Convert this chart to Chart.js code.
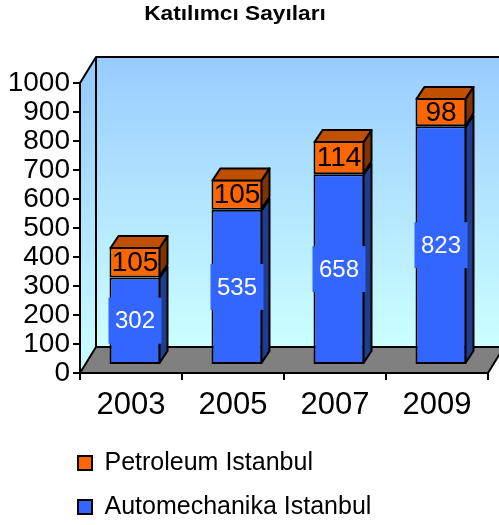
<!DOCTYPE html>
<html><head><meta charset="utf-8">
<script src="https://cdn.jsdelivr.net/npm/chart.js@4/dist/chart.umd.min.js"></script>
<style>html,body{margin:0;padding:0;background:#fff}#wrap{width:499px;height:525px}</style>
</head><body><div id="wrap"><canvas id="c" width="499" height="525"></canvas></div>
<script>
const titleText = 'Katılımcı Sayıları';
const categories = ['2003', '2005', '2007', '2009'];
const automechanika = [302, 535, 658, 823];
const petroleum = [105, 105, 114, 98];
const seriesNames = ['Automechanika Istanbul', 'Petroleum Istanbul'];
const yTickLabels = ['0', '100', '200', '300', '400', '500', '600', '700', '800', '900', '1000'];
const yMin = 0, yMax = 1000, yStep = 100;

const FONT = '"Liberation Sans", Arial, sans-serif';
const WALL = {dx: 16, dy: -26};
const BAR_SHIFT = {dx: 4, dy: -8};
const BAR_DEPTH = {dx: 8, dy: -12};

const threeD = {
  id: 'threeD',
  afterLayout(chart) {
    if (chart.legend) { chart.legend.left = 59; chart.legend.top = 431.5; }
  },
  beforeDatasetsDraw(chart) {
    const {ctx, chartArea: a, scales: {y}} = chart;
    const y0 = y.getPixelForValue(yMin), y1 = y.getPixelForValue(yMax);
    const L = a.left, R = a.right, dx = WALL.dx, dy = WALL.dy;
    ctx.save();
    const g = ctx.createLinearGradient(0, y1 + dy, 0, y0 + dy);
    g.addColorStop(0, '#99CCFF'); g.addColorStop(1, '#CCFFFF');
    ctx.fillStyle = g;
    ctx.fillRect(L + dx, y1 + dy, chart.width, y0 - y1);
    const g2 = ctx.createLinearGradient(0, y1, 0, y0);
    g2.addColorStop(0, '#99CCFF'); g2.addColorStop(1, '#CCFFFF');
    ctx.fillStyle = g2;
    ctx.beginPath(); ctx.moveTo(L, y1); ctx.lineTo(L + dx, y1 + dy); ctx.lineTo(L + dx, y0 + dy); ctx.lineTo(L, y0); ctx.closePath(); ctx.fill();
    ctx.fillStyle = '#808080';
    ctx.beginPath(); ctx.moveTo(L, y0); ctx.lineTo(L + dx, y0 + dy); ctx.lineTo(R + dx, y0 + dy); ctx.lineTo(R, y0); ctx.closePath(); ctx.fill();
    ctx.strokeStyle = '#000'; ctx.lineWidth = 2; ctx.lineJoin = 'round';
    ctx.beginPath();
    ctx.moveTo(L, y1); ctx.lineTo(L + dx, y1 + dy); ctx.lineTo(chart.width + 10, y1 + dy);
    ctx.moveTo(L + dx, y1 + dy); ctx.lineTo(L + dx, y0 + dy); ctx.lineTo(R + dx, y0 + dy);
    ctx.moveTo(L, y0); ctx.lineTo(L + dx, y0 + dy);
    ctx.moveTo(R, y0); ctx.lineTo(R + dx, y0 + dy);
    ctx.moveTo(L, y1); ctx.lineTo(L, y0); ctx.lineTo(R, y0);
    ctx.stroke();
    ctx.restore();
    ctx.save();
    ctx.translate(BAR_SHIFT.dx, BAR_SHIFT.dy);
  },
  afterDatasetsDraw(chart) {
    const ctx = chart.ctx;
    const n = chart.data.datasets.length;
    ctx.lineWidth = 2; ctx.lineJoin = 'round'; ctx.strokeStyle = '#000';
    chart.data.datasets.forEach((ds, i) => {
      const meta = chart.getDatasetMeta(i);
      meta.data.forEach(el => {
        const p = el.getProps(['x', 'y', 'base', 'width'], true);
        const xl = p.x - p.width / 2 + 1, xr = p.x + p.width / 2 - 1;
        const yt = p.y + 1, yb = p.base - 1;
        const ddx = BAR_DEPTH.dx, ddy = BAR_DEPTH.dy;
        ctx.fillStyle = ds.sideColor;
        ctx.beginPath(); ctx.moveTo(xr, yt); ctx.lineTo(xr + ddx, yt + ddy); ctx.lineTo(xr + ddx, yb + ddy); ctx.lineTo(xr, yb); ctx.closePath();
        ctx.fill(); ctx.stroke();
        if (i === n - 1) {
          ctx.fillStyle = ds.topColor;
          ctx.beginPath(); ctx.moveTo(xl, yt); ctx.lineTo(xl + ddx, yt + ddy); ctx.lineTo(xr + ddx, yt + ddy); ctx.lineTo(xr, yt); ctx.closePath();
          ctx.fill(); ctx.stroke();
        }
      });
    });
    chart.data.datasets.forEach((ds, i) => {
      const meta = chart.getDatasetMeta(i);
      meta.data.forEach((el, j) => {
        const p = el.getProps(['x', 'y', 'base', 'width'], true);
        const cy = (p.y + p.base) / 2;
        if (ds.labelBox) {
          ctx.fillStyle = ds.backgroundColor;
          ctx.fillRect(p.x - p.width / 2 - 1, cy - 23, p.width + 2, 46);
        }
        ctx.fillStyle = ds.labelColor;
        ctx.font = ds.labelSize + 'px ' + FONT;
        ctx.textAlign = 'center'; ctx.textBaseline = 'middle';
        ctx.fillText(String(ds.data[j]), p.x, cy + 1);
      });
    });
    ctx.restore();
  },
  afterDraw(chart) {
    const ctx = chart.ctx;
    ctx.save();
    ctx.font = 'bold 21px ' + FONT;
    ctx.fillStyle = '#000';
    ctx.textAlign = 'center'; ctx.textBaseline = 'alphabetic';
    ctx.translate(235, 19.5);
    ctx.scale(1.08, 1);
    ctx.fillText(titleText, 0, 0);
    ctx.restore();
  }
};

new Chart(document.getElementById('c'), {
  type: 'bar',
  data: {
    labels: categories,
    datasets: [
      {label: seriesNames[0], data: automechanika, backgroundColor: '#3366FF', borderColor: '#000', borderWidth: 2, borderSkipped: false,
       sideColor: '#203C8C', topColor: '#2A50CC', labelColor: '#fff', labelSize: 24, labelBox: true,
       categoryPercentage: 1, barPercentage: 0.5, clip: false},
      {label: seriesNames[1], data: petroleum, backgroundColor: '#FF6600', borderColor: '#000', borderWidth: 2, borderSkipped: false,
       sideColor: '#803300', topColor: '#C05000', labelColor: '#000', labelSize: 28, labelBox: false,
       categoryPercentage: 1, barPercentage: 0.5, clip: false}
    ]
  },
  options: {
    responsive: false, animation: false,
    layout: {padding: {top: 83, right: 11, left: 0, bottom: 0}},
    scales: {
      x: {
        stacked: true,
        grid: {display: true, drawOnChartArea: false, drawTicks: true, tickLength: 7, color: '#000', lineWidth: 2, offset: true},
        border: {display: true, color: '#000', width: 2},
        ticks: {font: {family: FONT, size: 31}, color: '#000', padding: 7, maxRotation: 0},
        afterFit(s) { const lg = s.chart.legend; s.height = 525 - 373 - (lg ? lg.height : 0); }
      },
      y: {
        stacked: true, min: yMin, max: yMax,
        grid: {display: true, drawOnChartArea: false, drawTicks: true, tickLength: 7, color: '#000', lineWidth: 2},
        border: {display: true, color: '#000', width: 2},
        ticks: {stepSize: yStep, autoSkip: false, font: {family: FONT, size: 28}, color: '#000', padding: 3,
                callback: (v, i) => yTickLabels[i]},
        afterFit(s) { s.width = 80; }
      }
    },
    plugins: {
      title: {display: false},
      tooltip: {enabled: false},
      legend: {
        position: 'bottom', align: 'start', reverse: true,
        labels: {boxWidth: 14, boxHeight: 14, padding: 19, color: '#000', font: {family: FONT, size: 25}}
      }
    }
  },
  plugins: [threeD]
});
</script>
</body></html>
